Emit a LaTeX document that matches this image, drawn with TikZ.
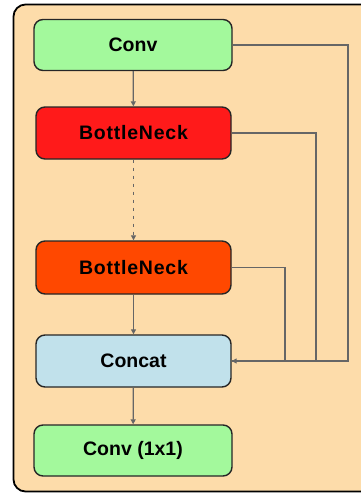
\documentclass[tikz,border=0pt]{standalone}
\usepackage{fontspec}
\setmainfont{Liberation Sans}
\newfontfamily\spaced[LetterSpace=4]{Liberation Sans}
\usetikzlibrary{arrows.meta}
\definecolor{peach}{HTML}{FDDCAA}
\definecolor{gconv}{HTML}{A3F99C}
\definecolor{rbn}{HTML}{FF1A1A}
\definecolor{obn}{HTML}{FF4800}
\definecolor{bcat}{HTML}{C1E1EB}
\definecolor{lgray}{HTML}{666666}
\tikzset{
  blk/.style={draw=black!85, line width=1.4pt, rounded corners=9pt, minimum height=51pt,
    font=\bfseries\fontsize{19.5}{22}\selectfont, inner sep=0pt},
  conn/.style={draw=lgray, line width=1.3pt},
  arr/.style={conn, -{Triangle[length=5pt,width=5pt]}}
}
\begin{document}
\begin{tikzpicture}[x=1pt,y=-1pt]
\useasboundingbox (0,0) rectangle (361,493);
\begin{scope}
\clip (0,0) rectangle (361,493);
\draw[fill=peach, line width=1.8pt, rounded corners=12pt] (13.5,4.5) rectangle (380,491.5);
\end{scope}
\node[blk, fill=gconv, minimum width=198pt] (conv) at (133,45) {Conv};
\node[blk, fill=rbn, minimum width=195pt, minimum height=52pt] (bn1) at (133.5,133) {\spaced BottleNeck};
\node[blk, fill=obn, minimum width=195pt, minimum height=53pt] (bn2) at (133.5,267.5) {\spaced BottleNeck};
\node[blk, fill=bcat, minimum width=195pt, minimum height=52pt] (cat) at (133.5,361) {Concat};
\node[blk, fill=gconv, minimum width=198pt] (out) at (133,450.5) {Conv (1x1)};
\draw[arr] (conv) -- (bn1);
\draw[arr, dash pattern=on 3pt off 5pt, line width=1.5pt] (bn1) -- (bn2);
\draw[arr] (bn2) -- (cat);
\draw[arr] (cat) -- (out);
\draw[conn] (conv.east) -| (348,361) -- (cat.east);
\draw[conn] (bn1.east) -| (316,361);
\draw[conn] (bn2.east) -| (285,361);
\draw[arr] (285,361) -- (cat.east);
\end{tikzpicture}
\end{document}
